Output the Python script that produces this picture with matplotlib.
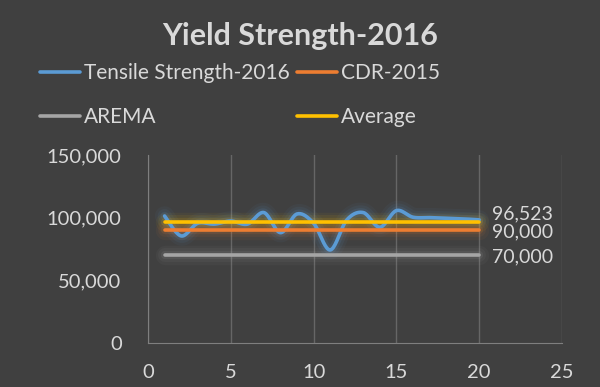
import numpy as np
import matplotlib
matplotlib.use("Agg")
import matplotlib.pyplot as plt

# ---- data ----
x_vals = list(range(1, 21))
tensile_2016 = [101300, 85400, 95500, 94800, 97300, 94800, 104000, 88000, 102900, 95500,
                74200, 98100, 104000, 92300, 105600, 100300, 100000, 99500, 99000, 98200]
cdr_2015 = [90000] * 20
arema = [70000] * 20
average = [96523] * 20
series_names = ["Tensile Strength-2016", "CDR-2015", "AREMA", "Average"]
title = "Yield Strength-2016"
yticks = [0, 50000, 100000, 150000]
xticks = [0, 5, 10, 15, 20, 25]

BG = "#404040"
TXT = "#d9d9d9"
colors = ["#5b9bd5", "#ed7d31", "#a5a5a5", "#ffc000"]

plt.rcParams['font.family'] = ['Lato', 'DejaVu Sans']


def smooth(xs, ys, n=20):
    xs = np.asarray(xs, float); ys = np.asarray(ys, float)
    P = np.column_stack([xs, ys])
    out = []
    for i in range(len(P) - 1):
        p0 = P[i - 1] if i > 0 else P[i]
        p1 = P[i]; p2 = P[i + 1]
        p3 = P[i + 2] if i + 2 < len(P) else P[i + 1]
        c1 = p1 + (p2 - p0) / 6.0
        c2 = p2 - (p3 - p1) / 6.0
        t = np.linspace(0, 1, n, endpoint=False)[:, None]
        seg = ((1 - t) ** 3) * p1 + 3 * ((1 - t) ** 2) * t * c1 + 3 * (1 - t) * t ** 2 * c2 + t ** 3 * p2
        out.append(seg)
    out.append(P[-1:])
    out = np.vstack(out)
    return out[:, 0], out[:, 1]


fig = plt.figure(figsize=(6, 3.87), dpi=100, facecolor=BG)
ax = fig.add_axes([0.2467, 0.1137, 0.69, 0.486], facecolor=BG)

data = [tensile_2016, cdr_2015, arema, average]
lines = []
for name, ys, c in zip(series_names, data, colors):
    sx, sy = smooth(x_vals, ys)
    for w, a in [(14, 0.05), (10, 0.07), (6, 0.12)]:
        ax.plot(sx, sy, color=c, lw=w, alpha=a, solid_capstyle='round', zorder=2)
    ln, = ax.plot(sx, sy, color=c, lw=2.6, solid_capstyle='round', zorder=3, label=name)
    lines.append(ln)

# data labels
for ys, dy in [(average, 6), (cdr_2015, -1), (arema, -1)]:
    ax.annotate(f"{ys[-1]:,}", (x_vals[-1], ys[-1]), xytext=(9, dy), textcoords='offset points',
                color=TXT, fontsize=14, va='center', ha='left', annotation_clip=False)

ax.set_xlim(0, 25)
ax.set_ylim(0, 150000)
ax.set_xticks(xticks)
ax.set_yticks(yticks)
ax.yaxis.set_major_formatter(matplotlib.ticker.FuncFormatter(lambda v, p: f"{int(v):,}"))
ax.grid(axis='x', color='#666666', lw=1)
ax.set_axisbelow(True)
for s in ['top', 'right']:
    ax.spines[s].set_visible(False)
for s in ['left', 'bottom']:
    ax.spines[s].set_color('#7f7f7f')
ax.tick_params(axis='both', length=0, colors=TXT, labelsize=14.5)
ax.tick_params(axis='x', pad=15)
ax.tick_params(axis='y', pad=19)

fig.text(0.5, 0.908, title, ha='center', va='center', color=TXT, fontsize=22, fontweight='bold')

# matplotlib fills legend columns first; order handles so rows read T, CDR / AREMA, Average
leg = fig.legend(handles=[lines[0], lines[2], lines[1], lines[3]], loc='upper left',
                 bbox_to_anchor=(0.0667, 0.837), ncol=2, frameon=False, fontsize=15,
                 labelcolor=TXT, handlelength=1.9, handletextpad=0.2, columnspacing=0.38,
                 labelspacing=1.15, borderpad=0, borderaxespad=0)

fig.savefig("out.png", dpi=100, facecolor=BG)
